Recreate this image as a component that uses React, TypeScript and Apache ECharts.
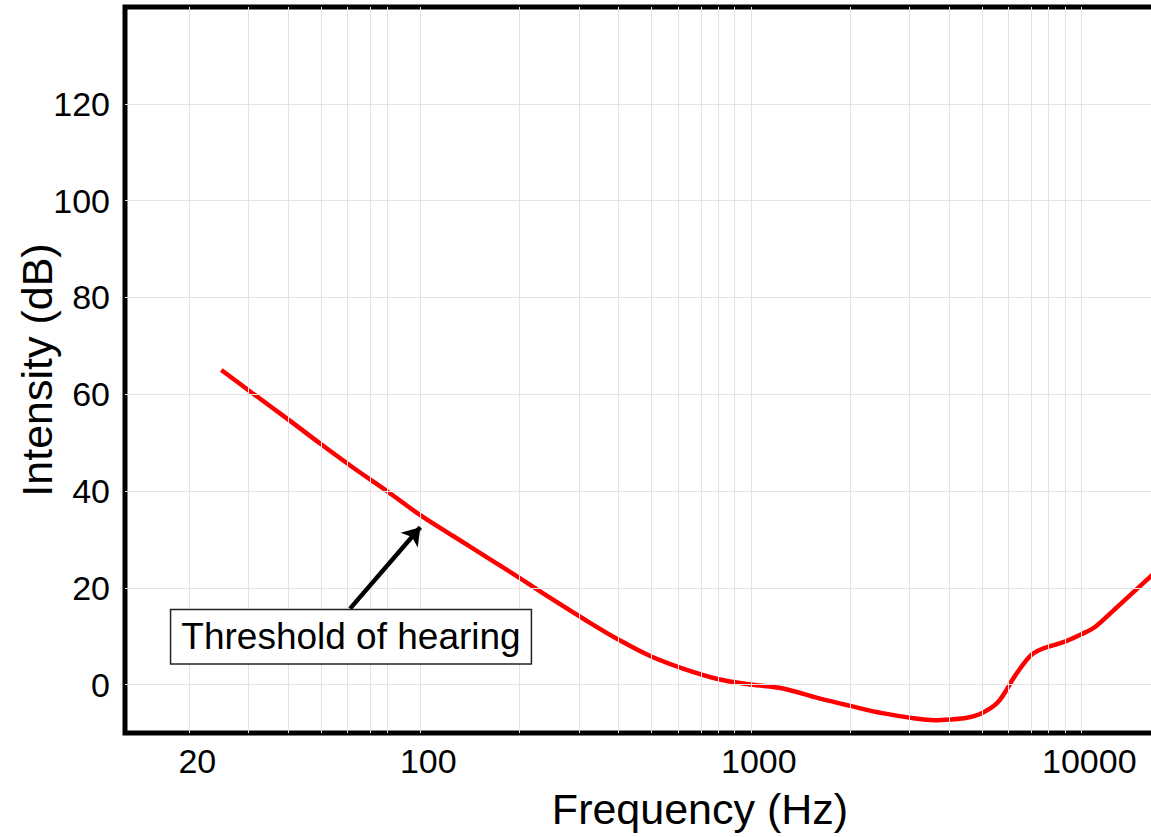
import React, { useEffect, useRef } from "react";
import * as echarts from "echarts";

// ---- Data ----
const FREQ_HZ = [
  25, 31.5, 40, 50, 63, 80, 100, 125, 160, 200, 250, 315, 400, 500, 630, 800,
  1000, 1250, 1600, 2000, 2500, 3150, 3600, 4000, 4500, 5000, 5600, 6300, 7000,
  7500, 8200, 9000, 10000, 11000, 12500, 14000, 16000, 18000,
];
const INTENSITY_DB = [
  65, 59.9, 54.7, 49.7, 44.7, 39.8, 35.0, 30.8, 26.2, 22.0, 17.7, 13.4, 9.2,
  5.8, 3.2, 1.1, 0, -0.8, -2.8, -4.4, -5.9, -7.0, -7.35, -7.2, -6.85, -5.9,
  -3.6, 1.8, 5.9, 7.2, 8.1, 9.0, 10.4, 11.9, 15.3, 18.4, 22, 25.2,
];

const X_TICK_LABELS = [20, 100, 1000, 10000];
const Y_TICK_LABELS = [0, 20, 40, 60, 80, 100, 120];
const X_GRID_HZ = [
  20, 30, 40, 50, 60, 70, 80, 100, 200, 300, 400, 500, 600, 700, 800, 900,
  1000, 2000, 3000, 4000, 5000, 6000, 7000, 8000, 9000, 10000,
];
const Y_GRID_DB = [0, 20, 40, 60, 80, 100, 120];

const X_MIN_HZ = 12.78;
const X_MAX_HZ = 38550;
const Y_MIN = -10;
const Y_MAX = 140;

const ANNOTATION_TEXT = "Threshold of hearing";
const ANNOTATION_AT = [61.7, 9.9]; // Hz, dB
const ARROW_FROM = [61.3, 15.7]; // Hz, dB
const ARROW_TO = [100, 32.5]; // Hz, dB

const FONT = "'Liberation Sans', Arial, Helvetica, sans-serif";
const lg = (v: number) => Math.log10(v);

export default function App() {
  const ref = useRef<HTMLDivElement | null>(null);

  useEffect(() => {
    if (!ref.current) return;
    const chart = echarts.init(ref.current, null, { renderer: "svg" });

    const option: any = {
      animation: false,
      backgroundColor: "#ffffff",
      grid: {
        left: 125,
        right: 25,
        top: 7,
        bottom: 104,
        containLabel: false,
        outerBoundsMode: "none",
        show: true,
        borderColor: "#000000",
        borderWidth: 5,
        backgroundColor: "transparent",
      },
      xAxis: {
        type: "value",
        min: lg(X_MIN_HZ),
        max: lg(X_MAX_HZ),
        name: "Frequency (Hz)",
        nameLocation: "middle",
        nameGap: 54,
        nameTextStyle: { fontSize: 43, color: "#000", fontFamily: FONT },
        axisLine: { show: false },
        axisTick: { show: false },
        splitLine: { show: false },
        axisLabel: {
          customValues: X_TICK_LABELS.map(lg),
          formatter: (v: number) => String(Math.round(Math.pow(10, v))),
          fontSize: 34,
          color: "#000",
          margin: 11,
          padding: [0, 0, 0, 16],
          fontFamily: FONT,
        },
      },
      yAxis: {
        type: "value",
        min: Y_MIN,
        max: Y_MAX,
        name: "Intensity (dB)",
        nameLocation: "middle",
        nameGap: 67,
        nameMoveOverlap: false,
        nameTextStyle: { fontSize: 43, color: "#000", fontFamily: FONT },
        axisLine: { show: false },
        axisTick: { show: false },
        splitLine: { show: false },
        axisLabel: {
          customValues: Y_TICK_LABELS,
          fontSize: 34,
          color: "#000",
          margin: 15,
          fontFamily: FONT,
        },
      },
      series: [
        {
          type: "line",
          data: [],
          silent: true,
          z: 1,
          markLine: {
            silent: true,
            symbol: ["none", "none"],
            label: { show: false },
            emphasis: { disabled: true },
            lineStyle: { color: "#e3e3e3", width: 1, type: "solid" },
            data: [
              ...X_GRID_HZ.map((f) => ({ xAxis: lg(f) })),
              ...Y_GRID_DB.map((v) => ({ yAxis: v })),
            ],
          },
        },
        {
          type: "line",
          name: "Threshold of hearing",
          data: FREQ_HZ.map((f, i) => [lg(f), INTENSITY_DB[i]]),
          smooth: 0.35,
          showSymbol: false,
          symbol: "none",
          lineStyle: { color: "#ff0000", width: 4.5 },
          z: 3,
          markLine: {
            silent: true,
            symbol: ["none", "arrow"],
            symbolSize: 17,
            label: { show: false },
            emphasis: { disabled: true },
            lineStyle: { color: "#000", width: 4.5, type: "solid" },
            data: [
              [
                { coord: [lg(ARROW_FROM[0]), ARROW_FROM[1]] },
                { coord: [lg(ARROW_TO[0]), ARROW_TO[1]] },
              ],
            ],
          },
          markPoint: {
            silent: true,
            symbol: "rect",
            symbolSize: 1,
            itemStyle: { color: "transparent" },
            emphasis: { disabled: true },
            label: {
              show: true,
              position: "inside",
              formatter: ANNOTATION_TEXT,
              color: "#000",
              fontSize: 37,
              lineHeight: 41,
              fontFamily: FONT,
              backgroundColor: "#ffffff",
              borderColor: "#222222",
              borderWidth: 1.5,
              padding: [6, 10],
            },
            data: [{ coord: [lg(ANNOTATION_AT[0]), ANNOTATION_AT[1]] }],
          },
        },
      ],
    };

    chart.setOption(option);
    return () => chart.dispose();
  }, []);

  return (
    <div
      style={{
        position: "fixed",
        left: 0,
        top: 0,
        width: 1151,
        height: 837,
        overflow: "hidden",
        background: "#fff",
      }}
    >
      <div ref={ref} style={{ width: 1300, height: 837 }} />
    </div>
  );
}
